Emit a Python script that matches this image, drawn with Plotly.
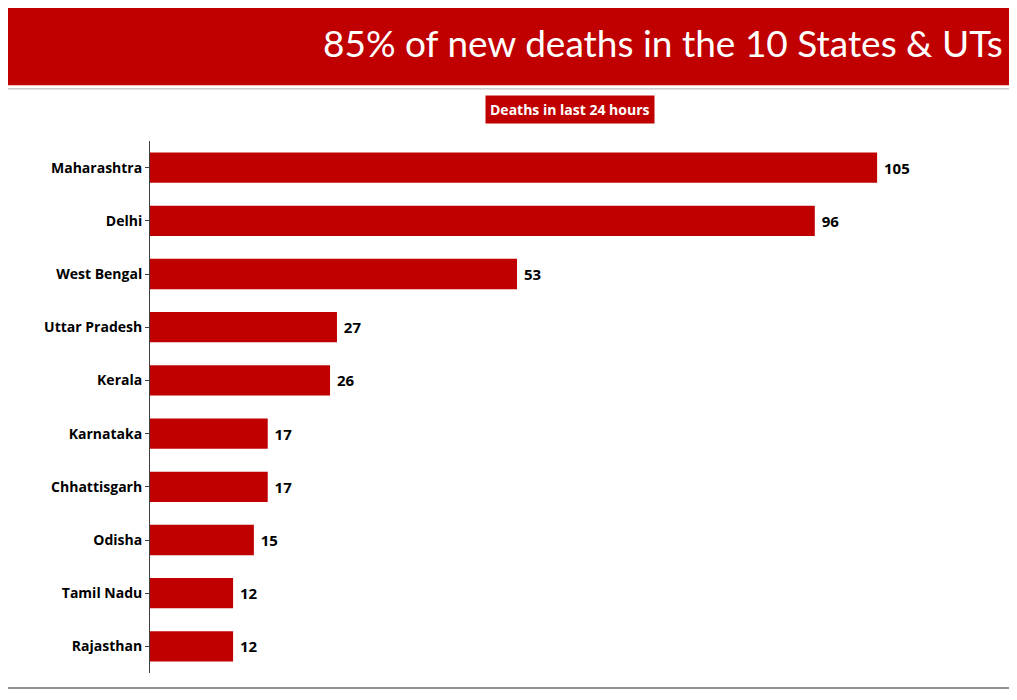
import plotly.graph_objects as go

states = ["Maharashtra", "Delhi", "West Bengal", "Uttar Pradesh", "Kerala",
          "Karnataka", "Chhattisgarh", "Odisha", "Tamil Nadu", "Rajasthan"]
deaths = [105, 96, 53, 27, 26, 17, 17, 15, 12, 12]

red = "#C00000"

fig = go.Figure(go.Bar(
    x=deaths, y=states, orientation="h",
    marker=dict(color=red, line=dict(width=0)),
    text=[" " + str(d) for d in deaths], textposition="outside",
    textfont=dict(family="Open Sans", size=15, color="black", weight="bold"),
    cliponaxis=False,
))

fig.update_layout(
    width=1017, height=700,
    margin=dict(l=142, r=8, t=133, b=35),
    paper_bgcolor="white", plot_bgcolor="white",
    bargap=0.43, showlegend=False,
    xaxis=dict(range=[0, 125.2], visible=False),
    yaxis=dict(autorange="reversed", showline=True, linecolor="#404040", linewidth=1,
               ticks="outside", ticklen=4, tickcolor="#404040",
               tickfont=dict(family="Open Sans", size=14, color="black", weight="bold")),
    shapes=[
        dict(type="rect", xref="paper", yref="paper", x0=-0.2, x1=1.02, y0=1.105, y1=1.3,
             fillcolor=red, line=dict(width=0), layer="below"),
        dict(type="line", xref="paper", yref="paper", x0=-0.2, x1=1.02, y0=1.098, y1=1.098,
             line=dict(color="#b0b0b0", width=1)),
        dict(type="line", xref="paper", yref="paper", x0=-0.2, x1=1.02, y0=-0.028, y1=-0.028,
             line=dict(color="#909090", width=2)),
    ],
    annotations=[
        dict(text="85% of new deaths in the 10 States & UTs", xref="paper", yref="paper",
             x=0.986, y=1.186, xanchor="right", yanchor="middle", showarrow=False,
             font=dict(family="Lato", size=37, color="white")),
        dict(text="<b>Deaths in last 24 hours</b>", xref="paper", yref="paper",
             x=0.4844, y=1.0583, xanchor="center", yanchor="middle", showarrow=False,
             bgcolor=red, borderpad=4,
             font=dict(family="Open Sans", size=14, color="white")),
    ],
)

fig.write_html("out.html")
